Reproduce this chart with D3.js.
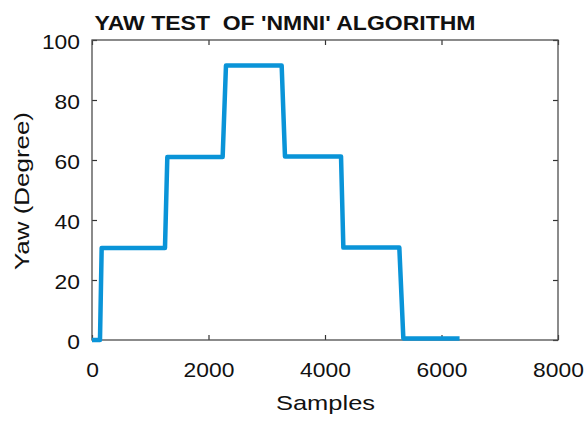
<!DOCTYPE html>
<html>
<head>
<meta charset="utf-8">
<script src="https://cdn.jsdelivr.net/npm/d3@7"></script>
<style>
  body { margin: 0; background: #fff; }
  text { font-family: "Liberation Sans", Arial, sans-serif; fill: #111; }
</style>
</head>
<body>
<div id="chart"></div>
<script>
// step data
var samples = [0, 137, 166, 1253, 1293, 2243, 2300, 3256, 3313, 4275, 4315, 5276, 5345, 6310];
var yaw = [0, 0, 30.7, 30.7, 61, 61, 91.5, 91.5, 61.2, 61.2, 30.8, 30.8, 0.5, 0.5];
var xTicks = [0, 2000, 4000, 6000, 8000];
var yTicks = [0, 20, 40, 60, 80, 100];

var svgWidth = 587, svgHeight = 425;
var margin = { top: 40, right: 29, bottom: 85, left: 92 };
var width = svgWidth - margin.left - margin.right;
var height = svgHeight - margin.top - margin.bottom;

var svg = d3.select("#chart").append("svg")
    .attr("width", svgWidth)
    .attr("height", svgHeight);

var chartGroup = svg.append("g")
    .attr("transform", `translate(${margin.left}, ${margin.top})`);

var x = d3.scaleLinear().domain([0, 8000]).range([0, width]);
var y = d3.scaleLinear().domain([0, 100]).range([height, 0]);

var digitW = 12.7;
var fmt = d3.format("d");

// bottom axis, ticks pointing inward
var bottomAxis = chartGroup.append("g")
    .attr("transform", `translate(0, ${height})`)
    .call(d3.axisBottom(x).tickValues(xTicks).tickFormat(fmt).tickSize(-5).tickPadding(22));
// left axis
var leftAxis = chartGroup.append("g")
    .call(d3.axisLeft(y).tickValues(yTicks).tickFormat(fmt).tickSize(-5).tickPadding(12));
// top & right ticks, no labels
var topAxis = chartGroup.append("g")
    .call(d3.axisTop(x).tickValues(xTicks).tickSize(-5).tickFormat(""));
var rightAxis = chartGroup.append("g")
    .attr("transform", `translate(${width}, 0)`)
    .call(d3.axisRight(y).tickValues(yTicks).tickSize(-5).tickFormat(""));

[bottomAxis, leftAxis, topAxis, rightAxis].forEach(function(g) {
    g.select(".domain").remove();
    g.selectAll(".tick line").attr("stroke", "#333").attr("stroke-width", 1.2);
    g.selectAll("text")
        .attr("font-size", 21)
        .attr("fill", "#111")
        .attr("font-family", "Liberation Sans, Arial, sans-serif")
        .attr("textLength", function(d) { return fmt(d).length * digitW; })
        .attr("lengthAdjust", "spacingAndGlyphs");
});
leftAxis.selectAll("text").attr("dy", "0.42em");

// box
chartGroup.append("rect")
    .attr("width", width)
    .attr("height", height)
    .attr("fill", "none")
    .attr("stroke", "#4d4d4d")
    .attr("stroke-width", 1.3);

// the line
var points = samples.map(function(s, i) { return [s, yaw[i]]; });
chartGroup.append("path")
    .datum(points)
    .attr("fill", "none")
    .attr("stroke", "#0a94d8")
    .attr("stroke-width", 4.5)
    .attr("stroke-linejoin", "round")
    .attr("d", d3.line().x(d => x(d[0])).y(d => y(d[1])));

// title
svg.append("text")
    .attr("x", 285)
    .attr("y", 30)
    .attr("text-anchor", "middle")
    .attr("font-size", 21)
    .attr("font-weight", "bold")
    .attr("textLength", 381)
    .attr("lengthAdjust", "spacingAndGlyphs")
    .style("white-space", "pre")
    .text("YAW TEST  OF 'NMNI' ALGORITHM");

// axis labels
svg.append("text")
    .attr("x", 325.5)
    .attr("y", 410)
    .attr("text-anchor", "middle")
    .attr("font-size", 21)
    .attr("textLength", 99)
    .attr("lengthAdjust", "spacingAndGlyphs")
    .text("Samples");

svg.append("text")
    .attr("transform", "translate(29, 191) rotate(-90)")
    .attr("text-anchor", "middle")
    .attr("font-size", 21)
    .attr("textLength", 158)
    .attr("lengthAdjust", "spacingAndGlyphs")
    .text("Yaw (Degree)");
</script>
</body>
</html>
